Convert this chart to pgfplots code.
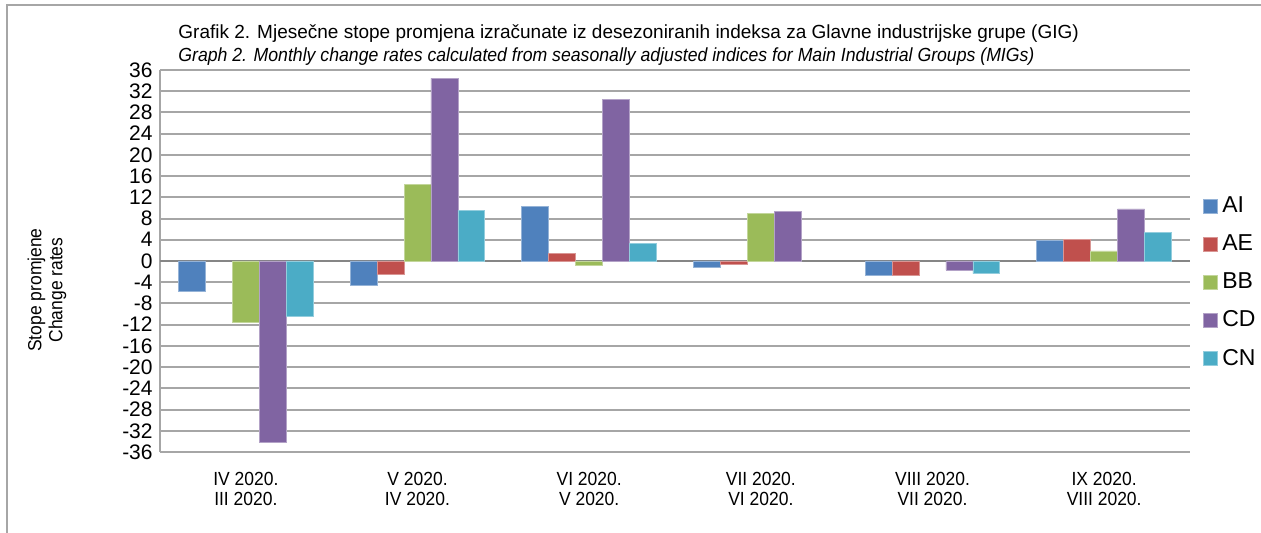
\documentclass[border=0pt]{standalone}
\usepackage{pgfplots}
\pgfplotsset{compat=1.18}
\usepackage{fontspec}
\setmainfont{Liberation Sans}
\newfontfamily\narrow[FakeStretch=0.92]{Liberation Sans}
\newfontfamily\titlef[FakeStretch=1.0]{Liberation Sans}
\newfontfamily\titlei[FakeStretch=0.93]{Liberation Sans}
\definecolor{cAI}{HTML}{4F81BD}
\definecolor{cAE}{HTML}{C0504D}
\definecolor{cBB}{HTML}{9BBB59}
\definecolor{cCD}{HTML}{8064A2}
\definecolor{cCN}{HTML}{4BACC6}
\definecolor{gridc}{HTML}{A6A6A6}
\definecolor{zeroc}{HTML}{868686}
\pgfplotsset{sqlegend/.style={/pgfplots/legend image code/.code={\fill[##1] (0pt,-3.5pt) rectangle (7pt,3.5pt);}}}
\begin{document}
\begin{tikzpicture}[x=0.5pt,y=0.5pt]
\path[use as bounding box] (0,0) rectangle (1261,533);
\draw[gridc, line width=0.8pt] (7,0) -- (7,528) -- (1261,528);
\node[anchor=base west, font=\titlef\fontsize{9.5}{11}\selectfont, inner sep=0pt] at (178,494) {Grafik 2. Mjesečne stope promjena izračunate iz desezoniranih indeksa za Glavne industrijske grupe (GIG)};
\node[anchor=base west, font=\titlei\itshape\fontsize{9.5}{11}\selectfont, inner sep=0pt] at (178,471) {Graph 2. Monthly change rates calculated from seasonally adjusted indices for Main Industrial Groups (MIGs)};
\node[rotate=90, align=center, font=\narrow\fontsize{9.5}{10.5}\selectfont, inner sep=0pt] at (47,243) {Stope promjene\\Change rates};
\begin{axis}[
  at={(80pt,40.5pt)}, anchor=south west,
  scale only axis, width=515pt, height=191pt,
  ybar=0pt, bar width=0.157,
  xmin=-0.5, xmax=5.5, ymin=-36, ymax=36,
  ytick={-36,-32,...,36},
  yticklabel={\pgfmathparse{int(\tick)}\pgfmathresult},
  yticklabel style={font=\fontsize{10.5}{12}\selectfont, inner sep=0pt, xshift=-3.5pt},
  xtick={0,...,5},
  xticklabels={{IV 2020.\\III 2020.},{V 2020.\\IV 2020.},{VI 2020.\\V 2020.},{VII 2020.\\VI 2020.},{VIII 2020.\\VII 2020.},{IX 2020.\\VIII 2020.}},
  xticklabel style={align=center, font=\narrow\fontsize{9.5}{10}\selectfont, inner sep=0pt, yshift=-10pt},
  major tick length=0pt,
  axis lines*=left,
  axis line style={gridc, line width=1pt},
  ymajorgrids, grid style={gridc, line width=1pt},
  extra y ticks={0}, extra y tick labels={},
  extra y tick style={grid style={zeroc, line width=1pt}},
  legend style={at={(1.0127,0.68)}, anchor=north west, draw=none, fill=none,
    font=\fontsize{11.5}{13}\selectfont, row sep=5.6pt, inner sep=0pt,
    legend cell align=left},
]
\addplot[fill=cAI, draw=cAI!60!white, line width=0.4pt, sqlegend] coordinates {(0,-5.7)(1,-4.6)(2,10.3)(3,-1.2)(4,-2.7)(5,3.9)};
\addplot[fill=cAE, draw=cAE!60!white, line width=0.4pt, sqlegend] coordinates {(1,-2.6)(2,1.4)(3,-0.7)(4,-2.7)(5,4.1)};
\addplot[fill=cBB, draw=cBB!60!white, line width=0.4pt, sqlegend] coordinates {(0,-11.5)(1,14.4)(2,-0.9)(3,8.9)(5,1.9)};
\addplot[fill=cCD, draw=cCD!60!white, line width=0.4pt, sqlegend] coordinates {(0,-34.1)(1,34.4)(2,30.5)(3,9.4)(4,-1.7)(5,9.8)};
\addplot[fill=cCN, draw=cCN!60!white, line width=0.4pt, sqlegend] coordinates {(0,-10.5)(1,9.6)(2,3.3)(4,-2.4)(5,5.3)};
\legend{AI,AE,BB,CD,CN}
\end{axis}
\end{tikzpicture}
\end{document}
